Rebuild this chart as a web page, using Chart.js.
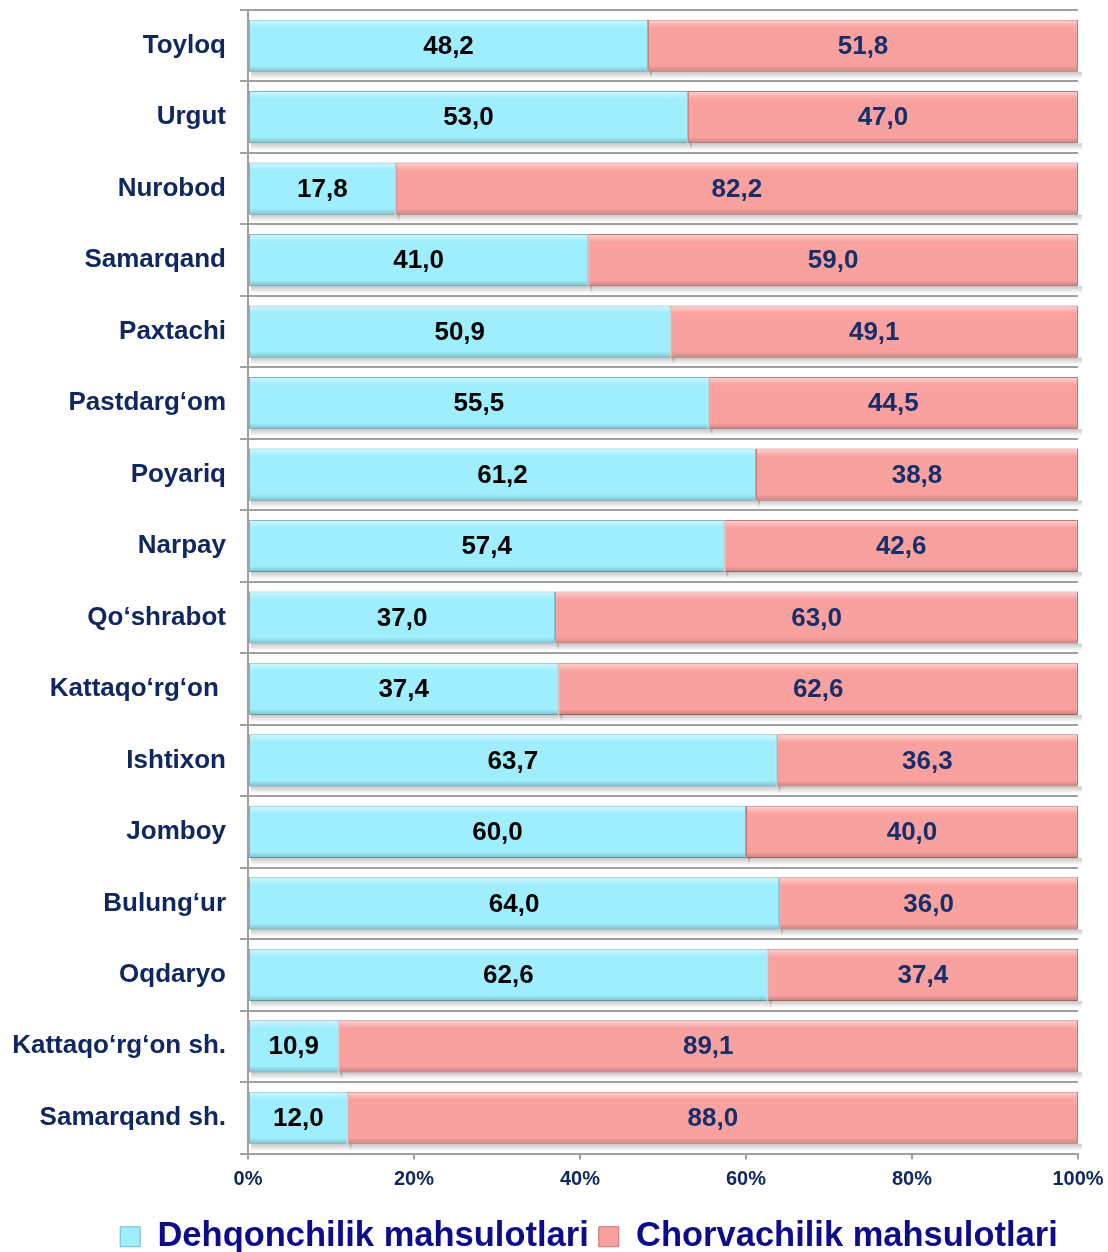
<!DOCTYPE html>
<html>
<head>
<meta charset="utf-8">
<script src="https://cdn.jsdelivr.net/npm/chart.js@4/dist/chart.umd.min.js"></script>
<style>
  html, body { margin: 0; padding: 0; background: #ffffff; }
  #wrap { width: 1108px; height: 1252px; }
</style>
</head>
<body>
<div id="wrap"><canvas id="districtChart" width="1108" height="1252"></canvas></div>
<script>
const categories = [
    'Toyloq', 'Urgut', 'Nurobod', 'Samarqand', 'Paxtachi', 'Pastdarg‘om',
    'Poyariq', 'Narpay', 'Qo‘shrabot', 'Kattaqo‘rg‘on ', 'Ishtixon', 'Jomboy',
    'Bulung‘ur', 'Oqdaryo', 'Kattaqo‘rg‘on sh.', 'Samarqand sh.'
];
const dehqonchilik = [48.2, 53.0, 17.8, 41.0, 50.9, 55.5, 61.2, 57.4, 37.0, 37.4, 63.7, 60.0, 64.0, 62.6, 10.9, 12.0];
const chorvachilik = [51.8, 47.0, 82.2, 59.0, 49.1, 44.5, 38.8, 42.6, 63.0, 62.6, 36.3, 40.0, 36.0, 37.4, 89.1, 88.0];
const seriesNames = ['Dehqonchilik mahsulotlari', 'Chorvachilik mahsulotlari'];

const FONT = '"Liberation Sans", Arial, sans-serif';
const NAVY = '#102860';

// bevel + shadow look of the original bars, drawn around the library's bar elements
const bevelPlugin = {
    id: 'bevel',
    afterLayout(chart) {
        // legend sits a bit right of centre and low in the original
        const lg = chart.legend;
        lg.left += 50; lg.right += 50;
        lg.top += 12; lg.bottom += 12;
    },
    beforeDatasetsDraw(chart) {
        const ctx = chart.ctx;
        ctx.save();
        chart.data.datasets.forEach((ds, i) => {
            chart.getDatasetMeta(i).data.forEach(bar => {
                const left = Math.min(bar.x, bar.base);
                const w = Math.abs(bar.x - bar.base);
                const bottom = bar.y + bar.height / 2;
                const g = ctx.createLinearGradient(0, bottom, 0, bottom + 7);
                g.addColorStop(0, 'rgba(0,0,0,0.22)');
                g.addColorStop(1, 'rgba(0,0,0,0)');
                ctx.fillStyle = g;
                ctx.fillRect(left + 2, bottom, w + 2, 7);
            });
        });
        ctx.restore();
    },
    afterDatasetsDraw(chart) {
        const ctx = chart.ctx;
        ctx.save();
        chart.data.datasets.forEach((ds, i) => {
            chart.getDatasetMeta(i).data.forEach(bar => {
                const left = Math.min(bar.x, bar.base);
                const w = Math.abs(bar.x - bar.base);
                const top = bar.y - bar.height / 2;
                const h = bar.height;
                const hi = ctx.createLinearGradient(0, top, 0, top + 8);
                hi.addColorStop(0, 'rgba(255,255,255,0.55)');
                hi.addColorStop(1, 'rgba(255,255,255,0)');
                ctx.fillStyle = hi;
                ctx.fillRect(left + 1, top + 1, w - 2, 8);
                const lo = ctx.createLinearGradient(0, top + h - 6, 0, top + h);
                lo.addColorStop(0, 'rgba(0,0,0,0)');
                lo.addColorStop(1, 'rgba(0,0,0,0.2)');
                ctx.fillStyle = lo;
                ctx.fillRect(left + 1, top + h - 6, w - 2, 6);
            });
        });
        ctx.restore();
    }
};

const valueLabels = {
    id: 'valueLabels',
    afterDatasetsDraw(chart) {
        const ctx = chart.ctx;
        ctx.save();
        ctx.font = 'bold 26px ' + FONT;
        ctx.textAlign = 'center';
        ctx.textBaseline = 'middle';
        chart.data.datasets.forEach((ds, i) => {
            ctx.fillStyle = i === 0 ? '#000000' : '#162e6a';
            chart.getDatasetMeta(i).data.forEach((bar, j) => {
                const txt = ds.data[j].toFixed(1).replace('.', ',');
                ctx.fillText(txt, (bar.x + bar.base) / 2, bar.y + 1);
            });
        });
        ctx.restore();
    }
};

const config = {
    type: 'bar',
    data: {
        labels: categories,
        datasets: [{
            label: seriesNames[0],
            data: dehqonchilik,
            backgroundColor: '#9eeefd',
            borderColor: '#6fb9cb',
            borderWidth: 1,
            borderSkipped: false
        }, {
            label: seriesNames[1],
            data: chorvachilik,
            backgroundColor: '#f9a19e',
            borderColor: '#c47471',
            borderWidth: 1,
            borderSkipped: false
        }]
    },
    options: {
        indexAxis: 'y',
        responsive: false,
        animation: false,
        devicePixelRatio: 1,
        layout: { padding: { top: 10, right: 30, left: 0, bottom: 0 } },
        datasets: {
            bar: { categoryPercentage: 1.0, barPercentage: 0.73 }
        },
        scales: {
            x: {
                stacked: true,
                min: 0,
                max: 100,
                ticks: {
                    stepSize: 20,
                    padding: 8,
                    color: NAVY,
                    font: { family: FONT, size: 20, weight: 'bold' },
                    callback: v => v + '%'
                },
                grid: { drawOnChartArea: false, drawTicks: true, tickLength: 6, color: '#a0a0a0', lineWidth: 2 },
                border: { display: true, color: '#a0a0a0', width: 2 },
                afterFit: s => { s.height = 44; s.paddingLeft = 0; s.paddingRight = 0; }
            },
            y: {
                stacked: true,
                ticks: {
                    padding: 14,
                    color: NAVY,
                    font: { family: FONT, size: 26, weight: 'bold' }
                },
                grid: { offset: true, color: '#a0a0a0', lineWidth: 2, tickLength: 8 },
                border: { display: true, color: '#a0a0a0', width: 2 },
                afterFit: s => { s.width = 248; s.paddingTop = 0; s.paddingBottom = 0; }
            }
        },
        plugins: {
            legend: {
                position: 'bottom',
                labels: {
                    color: '#0c0c8c',
                    boxWidth: 20,
                    boxHeight: 20,
                    padding: 10,
                    font: { family: FONT, size: 34.5, weight: 'bold' }
                }
            },
            tooltip: { enabled: false }
        }
    },
    plugins: [bevelPlugin, valueLabels]
};

var ctx = document.getElementById('districtChart').getContext('2d');
new Chart(ctx, config);
</script>
</body>
</html>
